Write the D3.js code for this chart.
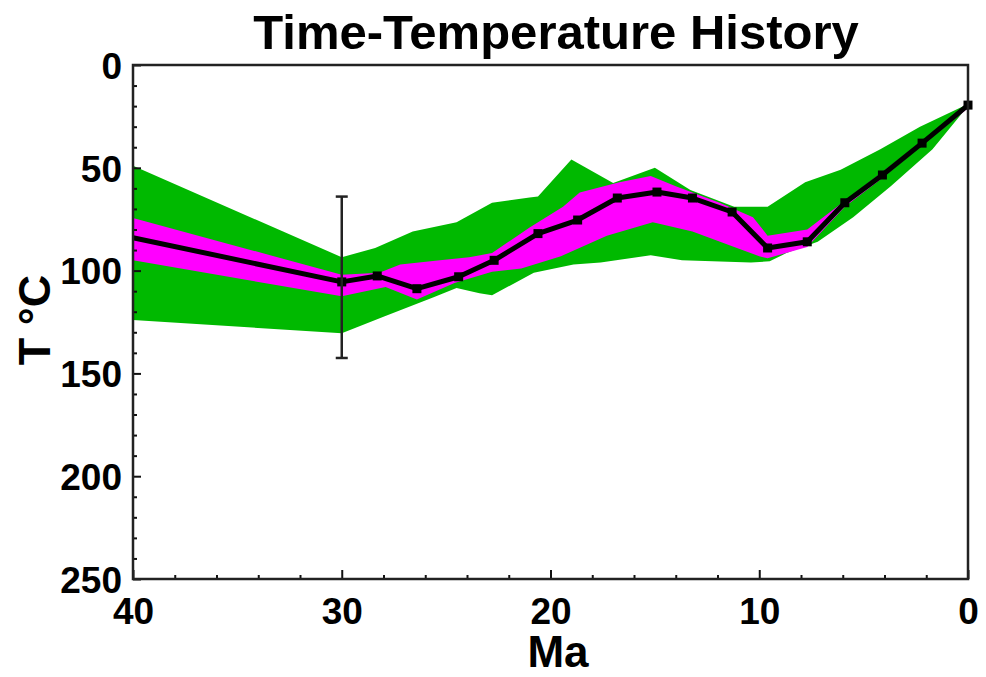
<!DOCTYPE html>
<html>
<head>
<meta charset="utf-8">
<script src="https://cdn.jsdelivr.net/npm/d3@7"></script>
<style>
  body { margin: 0; background: #fff; }
  text { font-family: "Liberation Sans", Arial, Helvetica, sans-serif; font-weight: bold; }
</style>
</head>
<body>
<div id="chart"></div>
<script>
const width = 986;
const height = 677;
const margin = { top: 65, right: 18, bottom: 98, left: 133 };

// best-fit path (Ma, deg C)
const pathAge = [40, 30, 28.3, 26.4, 24.4, 22.7, 20.6, 18.7, 16.8, 14.9, 13.2, 11.3, 9.6, 7.7, 5.9, 4.1, 2.2, 0];
const pathTemp = [84, 105.5, 102.6, 108.8, 103, 95, 82, 75.4, 64.7, 61.8, 64.7, 71.5, 89, 86, 67, 53.5, 38, 19.5];

// acceptable fit envelope (green)
const greenTopAge = [40, 30, 28.4, 26.6, 24.5, 22.8, 21, 20.6, 19, 17, 15, 13.3, 11.2, 9.6, 7.8, 6.1, 4.2, 2.3, 0];
const greenTopTemp = [49, 93.5, 89, 81, 76.5, 67, 64.5, 64, 46, 57.4, 50, 60.8, 69, 69, 57, 51, 41, 30, 19];
const greenBotAge = [40, 30, 28, 25.6, 24.5, 23.4, 22.8, 20.8, 18.9, 17.6, 15.2, 13.7, 10.4, 9.5, 8.7, 7.2, 5.5, 3.7, 1.7, 0];
const greenBotTemp = [124, 130.5, 122.5, 113, 108.5, 111, 112, 101, 97, 96, 92.5, 95, 96, 95.5, 91.5, 86, 74, 59, 41, 20];

// good fit envelope (magenta)
const magTopAge = [40, 30, 28.2, 27.2, 25.3, 23.9, 22.8, 21, 19.4, 18.6, 16.7, 15.2, 14, 11.9, 10.3, 9.6, 7.7, 5.9, 4.1, 2.2, 0];
const magTopTemp = [74.4, 102, 101, 97, 95, 93.5, 91.5, 79, 69, 62, 57, 54, 59, 67, 74, 83, 80, 66, 52, 37, 19];
const magBotAge = [40, 30, 27.9, 26.4, 24.6, 22.8, 21.4, 19.5, 17.3, 15.1, 13.2, 11.2, 10, 9.6, 7.7, 5.9, 4.1, 2.2, 0];
const magBotTemp = [95, 112.5, 108, 114, 106, 100.5, 99, 93, 83, 76.5, 81, 88.5, 93, 94, 88.5, 69, 55, 39, 21];

// constraint box
const constraintAge = 30;
const constraintTemp = [64, 142.5];

const xTicks = [40, 30, 20, 10, 0];
const yTicks = [0, 50, 100, 150, 200, 250];

const innerW = width - margin.left - margin.right;
const innerH = 579 - margin.top;

const svg = d3.select("#chart")
    .append("svg")
    .attr("width", width)
    .attr("height", height);

const g = svg.append("g")
    .attr("transform", `translate(${margin.left}, ${margin.top})`);

const x = d3.scaleLinear().domain([40, 0]).range([0, innerW]);
const y = d3.scaleLinear().domain([0, 250]).range([0, innerH]);

const toPts = (ages, temps) => ages.map((a, i) => [a, temps[i]]);
const line = d3.line().x(d => x(d[0])).y(d => y(d[1]));

function band(topA, topT, botA, botT, color) {
    const pts = toPts(topA, topT).concat(toPts(botA, botT).reverse());
    g.append("path")
        .attr("d", line(pts) + "Z")
        .attr("fill", color)
        .attr("stroke", "none");
}

band(greenTopAge, greenTopTemp, greenBotAge, greenBotTemp, "#00b900");
band(magTopAge, magTopTemp, magBotAge, magBotTemp, "#ff00ff");

// best path
const path = toPts(pathAge, pathTemp);
g.append("path")
    .attr("d", line(path))
    .attr("fill", "none")
    .attr("stroke", "#000")
    .attr("stroke-width", 5)
    .attr("stroke-linejoin", "round");

g.selectAll("rect.node")
    .data(path.filter(d => d[0] < 40))
    .enter()
    .append("rect")
    .attr("class", "node")
    .attr("x", d => x(d[0]) - 4.5)
    .attr("y", d => y(d[1]) - 4.5)
    .attr("width", 9)
    .attr("height", 9)
    .attr("fill", "#000");

// constraint error bar
g.append("line")
    .attr("x1", x(constraintAge)).attr("x2", x(constraintAge))
    .attr("y1", y(constraintTemp[0])).attr("y2", y(constraintTemp[1]))
    .attr("stroke", "#222").attr("stroke-width", 2.5);
constraintTemp.forEach(t => {
    g.append("line")
        .attr("x1", x(constraintAge) - 6).attr("x2", x(constraintAge) + 6)
        .attr("y1", y(t)).attr("y2", y(t))
        .attr("stroke", "#222").attr("stroke-width", 2.5);
});

// axes, ticks pointing inward
const yMinor = d3.range(0, 251, 10).filter(v => v % 50 !== 0);
const xMinor = d3.range(0, 41, 2).filter(v => v % 10 !== 0);

const yAxis = g.append("g")
    .call(d3.axisLeft(y).tickValues(yTicks).tickSize(-8).tickPadding(11));
g.append("g")
    .call(d3.axisLeft(y).tickValues(yMinor).tickSize(-4).tickFormat(""));

const xAxis = g.append("g")
    .attr("transform", `translate(0, ${innerH})`)
    .call(d3.axisBottom(x).tickValues(xTicks).tickSize(-9).tickPadding(19));
g.append("g")
    .attr("transform", `translate(0, ${innerH})`)
    .call(d3.axisBottom(x).tickValues(xMinor).tickSize(-4).tickFormat(""));

g.selectAll(".domain").remove();
g.selectAll(".tick line").attr("stroke", "#111").attr("stroke-width", 2);
g.selectAll(".tick text")
    .attr("fill", "#000")
    .style("font-size", "37px")
    .style("font-weight", "bold")
    .style("font-family", "'Liberation Sans', Arial, sans-serif");
yAxis.selectAll(".tick text").attr("dy", "0.36em");

// frame
g.append("rect")
    .attr("width", innerW)
    .attr("height", innerH)
    .attr("fill", "none")
    .attr("stroke", "#222")
    .attr("stroke-width", 2.5);

// titles
svg.append("text")
    .attr("x", 556)
    .attr("y", 49)
    .attr("text-anchor", "middle")
    .style("font-size", "49px")
    .text("Time-Temperature History");

svg.append("text")
    .attr("x", 558)
    .attr("y", 667)
    .attr("text-anchor", "middle")
    .style("font-size", "44px")
    .text("Ma");

svg.append("text")
    .attr("transform", "translate(50, 320) rotate(-90)")
    .attr("text-anchor", "middle")
    .style("font-size", "45px")
    .text("T °C");
</script>
</body>
</html>
